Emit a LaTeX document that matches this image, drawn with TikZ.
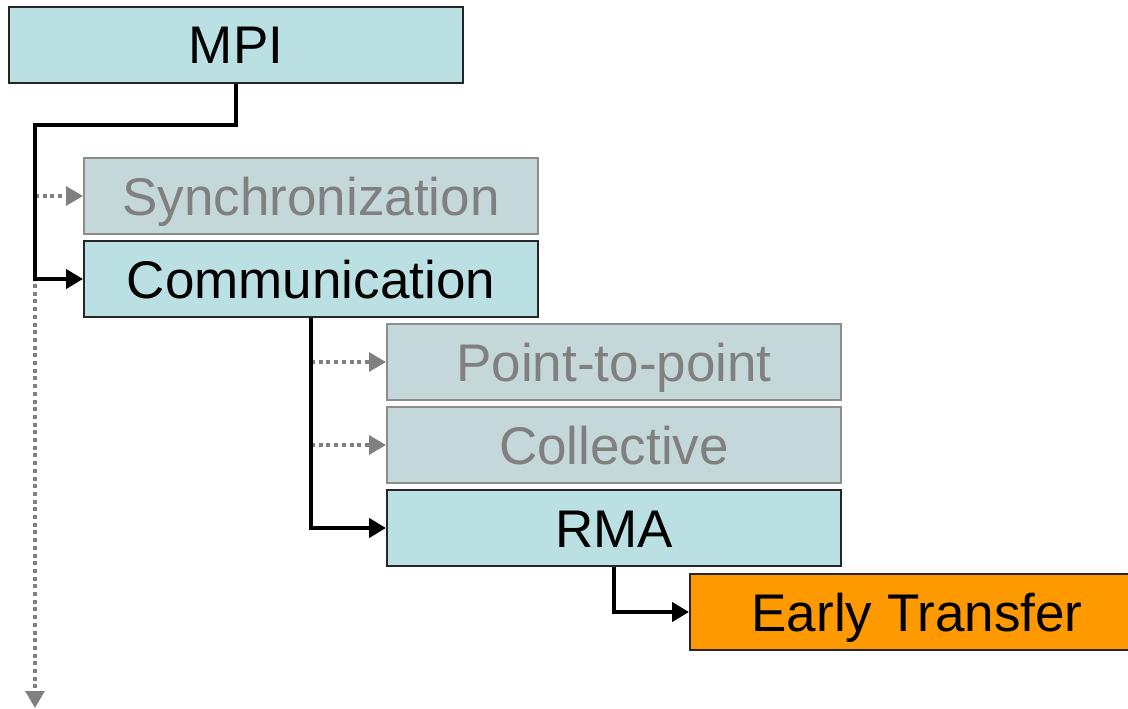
\documentclass[tikz,border=0pt]{standalone}
\usepackage{fontspec}
\setmainfont{Liberation Sans}
\usepackage{tikz}
\usetikzlibrary{arrows.meta,positioning,calc}
\definecolor{boxcyan}{RGB}{187,224,227}
\definecolor{boxgrey}{RGB}{196,216,218}
\definecolor{linegrey}{RGB}{128,128,128}
\definecolor{early}{RGB}{255,153,0}

\begin{document}
\begin{tikzpicture}[x=1pt, y=-1pt,
  >={Triangle[length=17pt,width=19pt]},
  box/.style={draw=black!85, line width=2pt, fill=boxcyan, anchor=north west, minimum width=454pt, minimum height=76pt,
    inner sep=0pt, text height=38pt, text depth=0pt, font=\fontsize{53}{60}\selectfont},
  off/.style={box, draw=linegrey!90, fill=boxgrey, text=linegrey},
  act/.style={->, line width=4.2pt},
  idle/.style={->, draw=linegrey, line width=3.2pt, dash pattern=on 4pt off 3.7pt}]
  \useasboundingbox (0,0) rectangle (1128,709);
  \clip (0,0) rectangle (1128,709);
  \node[box] (mpi) at (8,6) {MPI};
  \node[off] (sync) at (83,157) {Synchronization};
  \node[box] (comm) at (83,240) {Communication};
  \node[off] (p2p) at (386,323) {Point-to-point};
  \node[off] (coll) at (386,406) {Collective};
  \node[box] (rma) at (386,489) {RMA};
  \node[box, fill=early] (early) at (689,573) {Early Transfer};
  \coordinate (bus) at (35,125);
  \coordinate (busend) at (35,708);
  \draw[idle] (bus |- sync.west) -- (sync.west);
  \draw[idle] ($(bus |- comm.west)+(0,5)$) -- (busend);
  \draw[act] (mpi.south) |- (bus) |- (comm.west);
  \draw[idle] (comm.south |- p2p.west) -- (p2p.west);
  \draw[idle] (comm.south |- coll.west) -- (coll.west);
  \draw[act] (comm.south) |- (rma.west);
  \draw[act] (rma.south) |- (early.west);
\end{tikzpicture}
\end{document}
